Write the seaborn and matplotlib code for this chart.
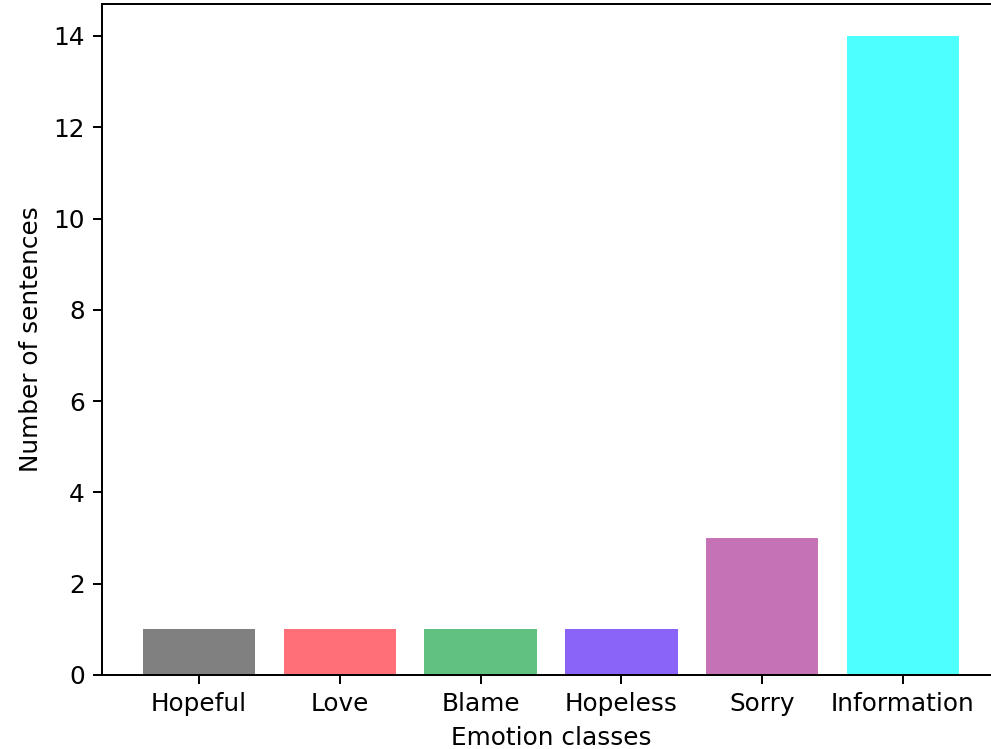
import matplotlib
matplotlib.use("Agg")
import matplotlib.pyplot as plt
import seaborn as sns
import pandas as pd

# data
emotions = ["Hopeful", "Love", "Blame", "Hopeless", "Sorry", "Information"]
counts = [1, 1, 1, 1, 3, 14]
bar_colors = ["#808080", "#fe6f77", "#61c181", "#8a63f9", "#c672b6", "#4dffff"]

df = pd.DataFrame({"emotion": emotions, "count": counts})

fig = plt.figure(figsize=(991 / 178, 749 / 178), dpi=178)
ax = fig.add_axes([102 / 991, 74 / 749, 898 / 991, 671 / 749])

sns.barplot(data=df, x="emotion", y="count", hue="emotion",
            palette=bar_colors, saturation=1, legend=False, width=0.8, ax=ax)

ax.set_xlim(-0.69, 5.69)
ax.set_ylim(0, 14.7)
ax.set_xlabel("Emotion classes")
ax.set_ylabel("Number of sentences")

fig.savefig("out.png", dpi=178)
